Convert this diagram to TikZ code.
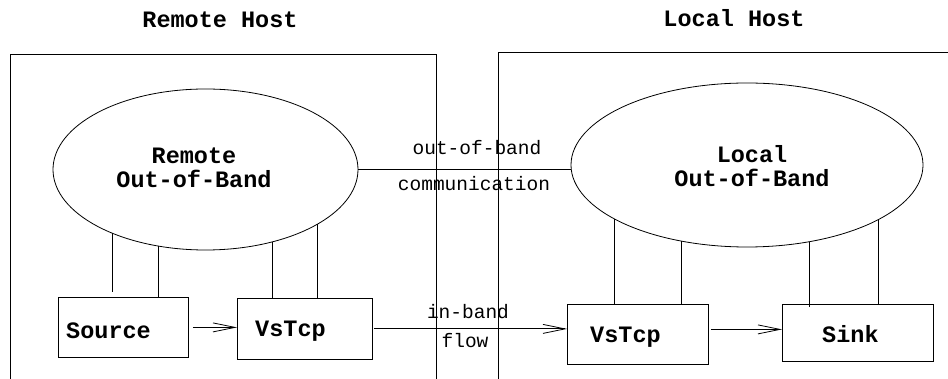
\documentclass[tikz,border=0pt]{standalone}
\usepackage{fontspec}
\setmonofont{Liberation Mono}
\usetikzlibrary{shapes.geometric,arrows.meta}
\begin{document}
\begin{tikzpicture}[x=1pt,y=-1pt,
  bold/.style={font=\fontsize{23.5}{24}\selectfont\ttfamily\bfseries, inner sep=0},
  lbl/.style={font=\fontsize{19.5}{22}\selectfont\ttfamily, inner sep=0},
  ln/.style={line width=0.8pt},
  arr/.style={ln, -{Straight Barb[length=22pt,width=9pt,line width=0.8pt]}},
  hostbox/.style={draw, ln, rectangle, anchor=north west, inner sep=0},
  compbox/.style={draw, ln, rectangle, anchor=north west, inner sep=0},
  oval/.style={draw, ln, ellipse, inner sep=0}]
\useasboundingbox (0,0) rectangle (948,379);
\clip (0,0) rectangle (948,379);
% titles
\node[bold, anchor=base] (rtitle) at (220,28) {Remote Host};
\node[bold, anchor=base] (ltitle) at (734,27) {Local Host};
% host frames
\node[hostbox, minimum width=426pt, minimum height=340pt] (rhost) at (10,54) {};
\node[hostbox, minimum width=470pt, minimum height=340pt] (lhost) at (498,52) {};
% out-of-band ellipses
\node[oval, minimum width=305pt, minimum height=161pt] (roob) at (205.5,169.5) {};
\node[oval, minimum width=352pt, minimum height=164pt] (loob) at (747,165) {};
\node[bold, align=center] (roobt) at (194,168) {Remote\\Out-of-Band};
\node[bold, align=center] (loobt) at (752,166) {Local\\Out-of-Band};
% component boxes
\node[compbox, minimum width=130pt, minimum height=60pt] (src) at (58,297) {};
\node[compbox, minimum width=135pt, minimum height=61pt] (rvs) at (237,298) {};
\node[compbox, minimum width=141pt, minimum height=60pt] (lvs) at (567,304) {};
\node[compbox, minimum width=151pt, minimum height=57pt] (snk) at (782,304) {};
\node[bold, anchor=base west] (srct) at (66,338) {Source};
\node[bold, anchor=base west] (rvst) at (255,337) {VsTcp};
\node[bold, anchor=base west] (lvst) at (590,343) {VsTcp};
\node[bold, anchor=base west] (snkt) at (822,343) {Sink};
% connectors ellipse -> boxes
\coordinate (re1) at (112,233);
\coordinate (re2) at (158,246);
\coordinate (re3) at (272,242);
\coordinate (re4) at (317,224.5);
\coordinate (le1) at (614,218.7);
\coordinate (le2) at (681,241);
\coordinate (le3) at (809,241.8);
\coordinate (le4) at (878,219.8);
\draw[ln, shorten >=5pt] (re1) -- (re1 |- src.north);
\draw[ln] (re2) -- (re2 |- src.north);
\draw[ln] (re3) -- (re3 |- rvs.north);
\draw[ln] (re4) -- (re4 |- rvs.north);
\draw[ln] (le1) -- (le1 |- lvs.north);
\draw[ln] (le2) -- (le2 |- lvs.north);
\draw[ln, shorten >=-3pt] (le3) -- (le3 |- snk.north);
\draw[ln] (le4) -- (le4 |- snk.north);
% out-of-band communication
\draw[ln] (roob.east) -- (roob.east -| loob.west);
\node[lbl, anchor=base] (oobt) at (477,155) {out-of-band};
\node[lbl, anchor=base] (commt) at (474,191) {communication};
% in-band flow
\draw[arr, shorten <=4pt] (src.east) -- (src.east -| rvs.west);
\draw[arr, shorten <=1pt] (rvs.east) -- (rvs.east -| lvs.west);
\path ([yshift=5pt]lvs.east) coordinate (a1);
\draw[arr, shorten <=2pt] (a1) -- (a1 -| snk.west);
\node[lbl, anchor=base] (ibt) at (468,319) {in-band};
\node[lbl, anchor=base] (flowt) at (465,348) {flow};
\end{tikzpicture}
\end{document}
